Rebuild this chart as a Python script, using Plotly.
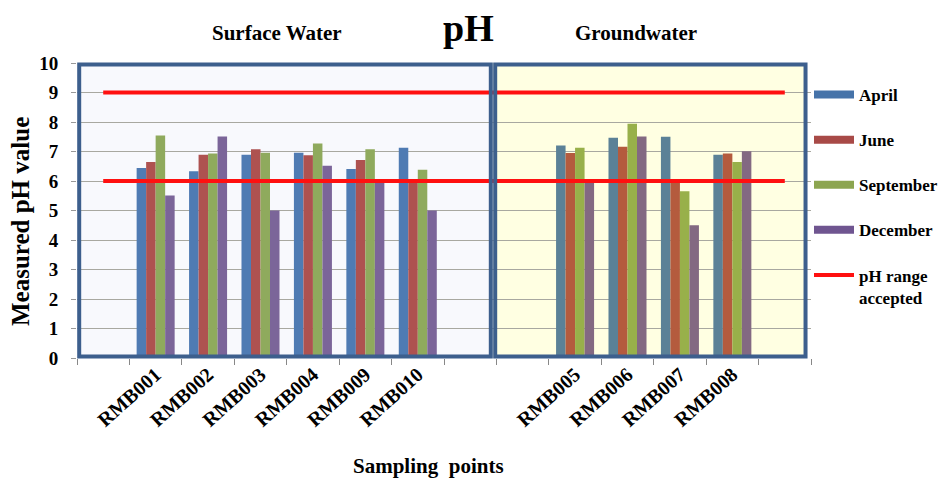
import plotly.graph_objects as go

# ---- data ----
surface_sites = ["RMB001", "RMB002", "RMB003", "RMB004", "RMB009", "RMB010"]
ground_sites = ["RMB005", "RMB006", "RMB007", "RMB008"]
months = ["April", "June", "September", "December"]
april = [6.44, 6.33, 6.89, 6.96, 6.41, 7.13, 7.20, 7.47, 7.50, 6.89]
june = [6.64, 6.89, 7.08, 6.87, 6.71, 6.00, 6.95, 7.16, 6.00, 6.93]
september = [7.54, 6.93, 6.96, 7.27, 7.08, 6.38, 7.13, 7.94, 5.65, 6.64]
december = [5.51, 7.51, 5.00, 6.52, 6.00, 5.00, 6.00, 7.51, 4.50, 7.01]
ph_range = [6, 9]
y_ticks = [0, 1, 2, 3, 4, 5, 6, 7, 8, 9, 10]

sites = surface_sites + ground_sites
series = [april, june, september, december]

# category slots (blank slots give the empty spacing of the original)
slots = [" "] + surface_sites + ["  ", "   "] + ground_sites + ["    "]

# ---- styles ----
FONT = "Liberation Serif, Times New Roman, serif"
left_cols = ["#4F7BB3", "#AE5250", "#8FAA5D", "#7B6599"]
right_cols = ["#5B8197", "#B45B3E", "#98B04A", "#836982"]
legend_cols = ["#4673A9", "#A84A47", "#8CA550", "#6F5590"]
BORDER = "#3D5F8D"

fig = go.Figure()

# legend-only entries drawn as wide swatches
for m, c in zip(months, legend_cols):
    fig.add_trace(go.Scatter(x=[None], y=[None], mode="lines", name=m, legendgroup=m,
                             line=dict(color=c, width=8)))

for m, vals, lc, rc in zip(months, series, left_cols, right_cols):
    colors = [lc] * len(surface_sites) + [rc] * len(ground_sites)
    fig.add_trace(go.Bar(x=sites, y=vals, name=m, legendgroup=m, showlegend=False,
                         marker=dict(color=colors, line=dict(width=0))))

for i, v in enumerate(sorted(ph_range, reverse=True)):
    fig.add_trace(go.Scatter(x=slots, y=[v] * len(slots), mode="lines",
                             name="pH range<br>accepted", legendgroup="ph",
                             showlegend=(i == 0),
                             line=dict(color="#FF1010", width=4)))

# page body adds an 8px offset; coordinates below are reference pixels
OFF = 8
W, H = 946 - OFF, 478 - OFF
L, T = 77 - OFF, 63 - OFF
R = W - (811 - OFF)
B = H - (358 - OFF)
pw = W - L - R
ph = H - T - B
def px(x):
    return (x - OFF - L) / pw
def py(y):
    return (H - B - (y - OFF)) / ph

div = px(493)
rend = px(807)

shapes = [
    dict(type="rect", xref="paper", yref="paper", x0=0, x1=div, y0=0, y1=1,
         fillcolor="#F8F9FD", line=dict(width=0), layer="below"),
    dict(type="rect", xref="paper", yref="paper", x0=div, x1=rend, y0=0, y1=1,
         fillcolor="#FFFFE2", line=dict(width=0), layer="below"),
    dict(type="rect", xref="paper", yref="paper", x0=0.003, x1=div - 0.003, y0=0.005, y1=0.995,
         fillcolor="rgba(0,0,0,0)", line=dict(color=BORDER, width=4), layer="above"),
    dict(type="rect", xref="paper", yref="paper", x0=div + 0.003, x1=rend - 0.002, y0=0.005, y1=0.995,
         fillcolor="rgba(0,0,0,0)", line=dict(color=BORDER, width=4), layer="above"),
]

def ann(text, x, y, size, angle=0):
    return dict(text=text, xref="paper", yref="paper", x=px(x), y=py(y),
                showarrow=False, textangle=angle, xanchor="center", yanchor="middle",
                font=dict(family=FONT, size=size, color="black", weight="bold"))

annotations = [
    ann("pH", 468, 28, 38),
    ann("Surface Water", 277, 33, 21),
    ann("Groundwater", 636, 33, 21),
    ann("Sampling  points", 428, 466, 21),
    ann("Measured pH value", 21, 222, 25, -90),
]

fig.update_layout(
    width=W, height=H,
    margin=dict(l=L, r=R, t=T, b=B, pad=0, autoexpand=False),
    paper_bgcolor="white", plot_bgcolor="white",
    barmode="group", bargap=0.275, bargroupgap=0,
    shapes=shapes, annotations=annotations,
    showlegend=True,
    legend=dict(x=px(809), xanchor="left", y=py(77), yanchor="top",
                font=dict(family=FONT, size=17, color="black", weight="bold"),
                tracegroupgap=20, valign="top", bgcolor="rgba(0,0,0,0)",
                itemwidth=40),
    xaxis=dict(type="category", categoryorder="array", categoryarray=slots,
               range=[-0.5, len(slots) - 0.5], tickson="boundaries", automargin=False,
               ticks="outside", ticklen=6, tickcolor="#888888",
               showgrid=False, showline=False, zeroline=False,
               tickangle=-42, tickfont=dict(family=FONT, size=20, color="black", weight="bold")),
    yaxis=dict(range=[0, 10], tickvals=y_ticks, ticks="outside", ticklen=5, automargin=False,
               tickcolor="#999999", showgrid=True, gridcolor="#A8A8A0", gridwidth=1,
               zeroline=False, showline=False, ticklabelstandoff=9,
               tickfont=dict(family=FONT, size=19, color="black", weight="bold")),
)

fig.write_html("out.html")
